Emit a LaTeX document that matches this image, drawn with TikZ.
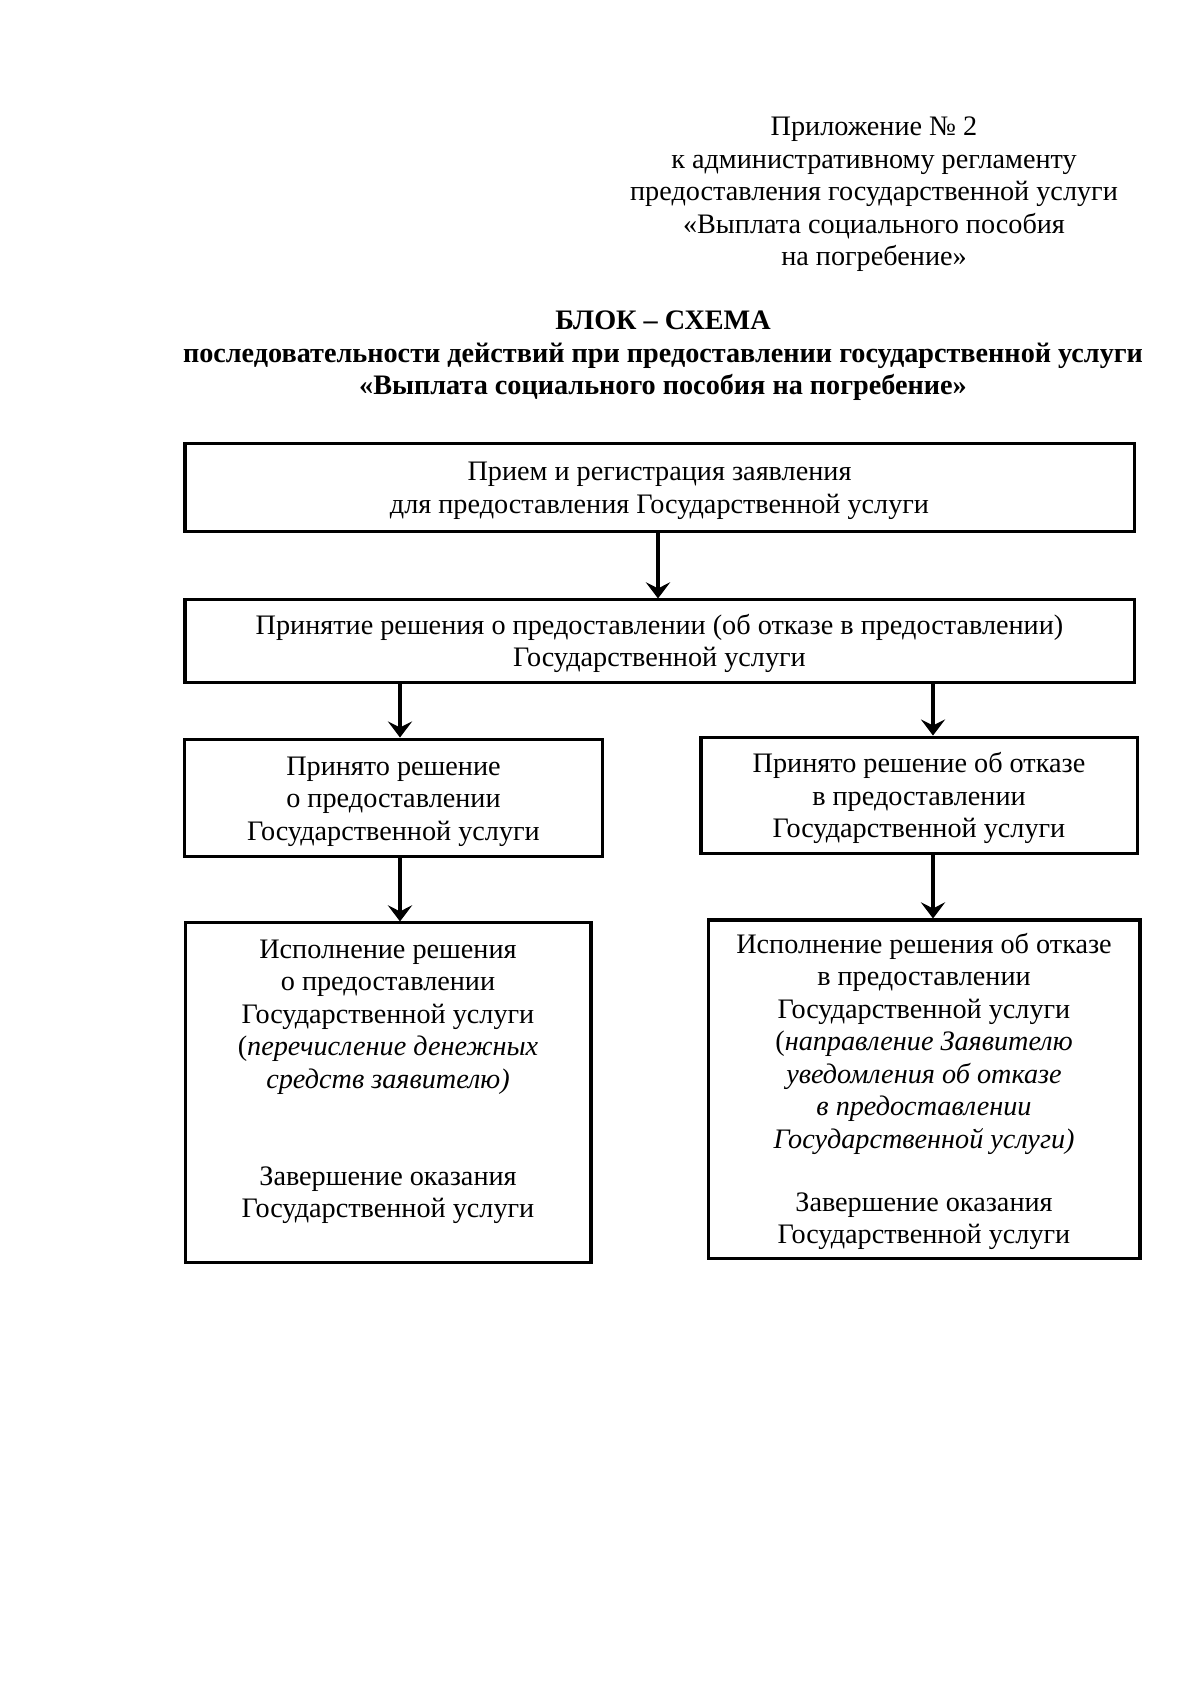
\documentclass[tikz,border=0pt]{standalone}
\usepackage{fontspec}
\setmainfont{Liberation Serif}
\usetikzlibrary{arrows.meta}
\newcommand\topgap{\rule{0pt}{12.5pt}\\[-16.1pt]}
\begin{document}
\begin{tikzpicture}[x=0.4961pt,y=-0.4961pt,
  txt/.style={align=center, inner sep=0pt, font=\fontsize{14}{16.1}\selectfont},
  box/.style={txt, draw, line width=1.5pt},
  arr/.style={line width=1.8pt, -{Stealth[length=8pt,width=12pt,inset=3pt]}}]
\useasboundingbox (0,0) rectangle (1200,1691);
% header
\node[txt] (hdr) at (874,194.5) {Приложение № 2\\к административному регламенту\\предоставления государственной услуги\\«Выплата социального пособия\\на погребение»};
\node[txt, font=\fontsize{14}{16.1}\selectfont\bfseries] (title) at (663,356) {БЛОК – СХЕМА\\последовательности действий при предоставлении государственной услуги\\«Выплата социального пособия на погребение»};
% boxes
\node[box, minimum width=470.8pt, minimum height=43.2pt] (b1) at (659.5,487.5) {\topgap Прием и регистрация заявления\\для предоставления Государственной услуги};
\node[box, minimum width=470.8pt, minimum height=40.7pt] (b2) at (659.5,641) {\topgap Принятие решения о предоставлении (об отказе в предоставлении)\\Государственной услуги};
\node[box, minimum width=206.9pt, minimum height=58.5pt] (b3l) at (393.5,798) {\topgap Принято решение\\о предоставлении\\Государственной услуги};
\node[box, minimum width=216.3pt, minimum height=58.0pt] (b3r) at (919,795.5) {\topgap Принято решение об отказе\\в предоставлении\\Государственной услуги};
\node[box, minimum width=201.4pt, minimum height=168.2pt] (b4l) at (388,1092.5) {\topgap Исполнение решения\\о предоставлении\\Государственной услуги\\(\textit{перечисление денежных}\\\textit{средств заявителю)}\\[32.2pt]Завершение оказания\\Государственной услуги\\[-4pt]\strut};
\node[box, minimum width=214.3pt, minimum height=167.7pt] (b4r) at (924,1089) {\topgap Исполнение решения об отказе\\в предоставлении\\Государственной услуги\\(\textit{направление Заявителю}\\\textit{уведомления об отказе}\\\textit{в предоставлении}\\\textit{Государственной услуги)}\\[15.1pt]Завершение оказания\\Государственной услуги};
% connectors
\coordinate (xa) at (658,0);
\coordinate (xl) at (400,0);
\coordinate (xr) at (933,0);
\draw[arr] (b1.south -| xa) -- (b2.north -| xa);
\draw[arr] (b2.south -| xl) -- (b3l.north -| xl);
\draw[arr] (b2.south -| xr) -- (b3r.north -| xr);
\draw[arr] (b3l.south -| xl) -- (b4l.north -| xl);
\draw[arr] (b3r.south -| xr) -- (b4r.north -| xr);
\end{tikzpicture}
\end{document}
